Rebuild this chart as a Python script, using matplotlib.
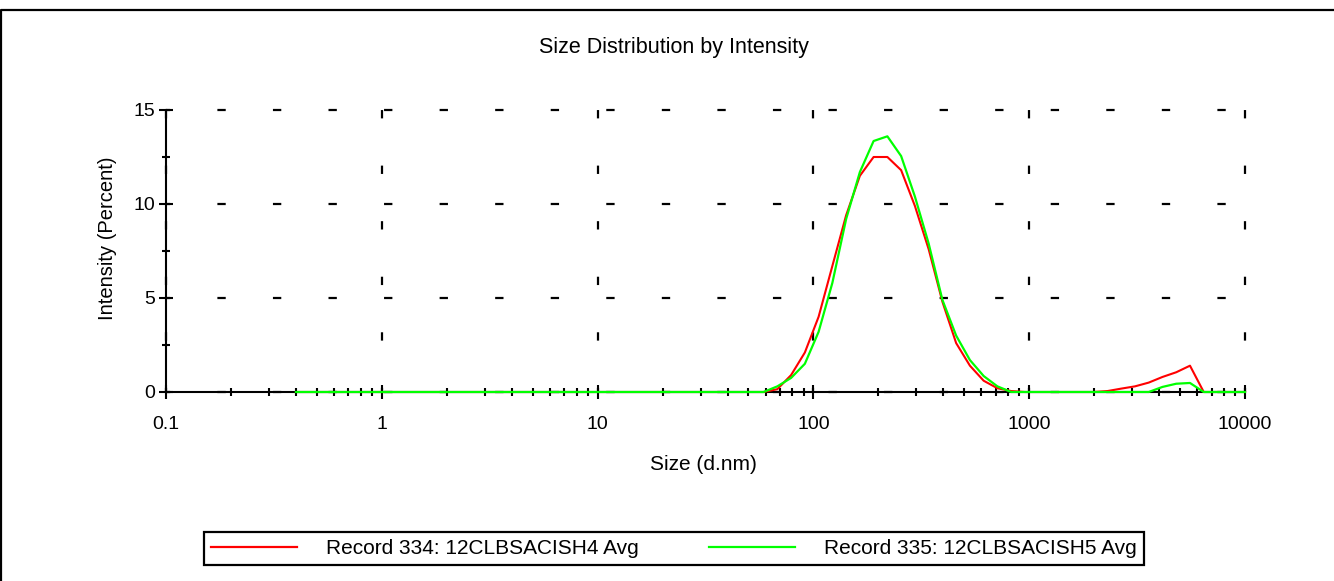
import matplotlib
matplotlib.use("Agg")
import matplotlib.pyplot as plt
from matplotlib.ticker import FixedLocator, FixedFormatter, LogLocator, NullFormatter

plt.rcParams['font.family'] = ['Liberation Sans', 'DejaVu Sans']
plt.rcParams['lines.scale_dashes'] = False

# Zetasizer size classes (d.nm)
sizes = [0.4, 0.4632, 0.5365, 0.6213, 0.7195, 0.8332, 0.9649, 1.117, 1.294, 1.499,
         1.736, 2.01, 2.328, 2.696, 3.122, 3.615, 4.187, 4.849, 5.615, 6.503,
         7.531, 8.721, 10.1, 11.7, 13.54, 15.69, 18.17, 21.04, 24.36, 28.21,
         32.67, 37.84, 43.82, 50.75, 58.77, 68.06, 78.82, 91.28, 105.7, 122.4,
         141.8, 164.2, 190.1, 220.2, 255.0, 295.3, 342.0, 396.1, 458.7, 531.2,
         615.1, 712.4, 825.0, 955.4, 1106, 1281, 1484, 1718, 1990, 2305,
         2669, 3091, 3580, 4145, 4801, 5560, 6439, 7456, 8635, 10000]

# Intensity (%) per class
rec334 = [0] * 35 + [0.15, 0.9, 2.1, 4.0, 6.7, 9.4, 11.5, 12.5, 12.5, 11.8, 9.9, 7.6,
                     4.8, 2.6, 1.4, 0.6, 0.2, 0.05, 0, 0, 0, 0, 0, 0, 0.05,
                     0.18, 0.3, 0.5, 0.8, 1.05, 1.4, 0, 0, 0, 0]
rec335 = [0] * 35 + [0.3, 0.75, 1.5, 3.2, 5.8, 9.2, 11.7, 13.35, 13.6, 12.55, 10.4, 7.9,
                     4.9, 3.0, 1.7, 0.85, 0.3, 0, 0, 0, 0, 0, 0, 0, 0,
                     0, 0, 0, 0.27, 0.44, 0.48, 0, 0, 0, 0]

labels = ["Record 334: 12CLBSACISH4 Avg", "Record 335: 12CLBSACISH5 Avg"]
x_ticks = [0.1, 1, 10, 100, 1000, 10000]
x_tick_labels = ["0.1", "1", "10", "100", "1000", "10000"]
y_ticks = [0, 5, 10, 15]

W, H = 1334, 581
fig = plt.figure(figsize=(W / 100, H / 100), dpi=100)
ax = fig.add_axes([166 / W, 1 - 392 / H, (1245 - 166) / W, (392 - 110) / H])

# 線は軸の上に描く (ベースラインが見えるように)
l1, = ax.plot(sizes, rec334, color='#ff0000', lw=1.5, zorder=3, clip_on=False)
l2, = ax.plot(sizes, rec335, color='#00ff00', lw=1.6, zorder=3.1, clip_on=False)

ax.set_xscale('log')
ax.set_xlim(0.1, 10000)
ax.set_ylim(0, 15)

ax.xaxis.set_major_locator(FixedLocator(x_ticks))
ax.xaxis.set_major_formatter(FixedFormatter(x_tick_labels))
ax.xaxis.set_minor_locator(LogLocator(base=10, subs=range(2, 10)))
ax.xaxis.set_minor_formatter(NullFormatter())
ax.yaxis.set_major_locator(FixedLocator(y_ticks))
ax.yaxis.set_minor_locator(FixedLocator([2.5, 7.5, 12.5]))

ax.tick_params(which='major', direction='inout', length=10, width=1.5, labelsize=14)
ax.tick_params(which='minor', direction='inout', length=6, width=1.5)
ax.tick_params(axis='x', which='major', pad=12)
ax.tick_params(axis='y', which='major', pad=3)

for s in ['top', 'right']:
    ax.spines[s].set_visible(False)
for s in ['left', 'bottom']:
    ax.spines[s].set_linewidth(1.5)

# 点線グリッド
ax.grid(True, which='major', color='black', lw=1.6, linestyle=(3, (6, 34)))
ax.set_axisbelow(True)
for gl in ax.get_xgridlines() + ax.get_ygridlines():
    gl.set_clip_on(False)

fig.text(674 / W, 1 - 47 / H, "Size Distribution by Intensity", ha='center', va='center', fontsize=15.5)
fig.text(703 / W, 1 - 465 / H, "Size (d.nm)", ha='center', va='center', fontsize=15)
fig.text(108 / W, 1 - 238 / H, "Intensity (Percent)", ha='center', va='center',
         rotation=90, fontsize=14.5)

leg = fig.legend([l1, l2], labels, loc='center', bbox_to_anchor=(674 / W, 1 - 548.5 / H),
                 ncol=2, fontsize=15, frameon=True, fancybox=False, framealpha=1,
                 edgecolor='black', handlelength=4.1, handletextpad=1.4,
                 columnspacing=3.4, borderpad=0.35)
leg.get_frame().set_linewidth(1.6)
for h in leg.legend_handles:
    h.set_linewidth(1.6)

# 外枠
fig.add_artist(plt.Line2D([1.5 / W, 1.5 / W, 1], [0, 1 - 9.5 / H, 1 - 9.5 / H],
                          transform=fig.transFigure, color='black', lw=1.6))

fig.savefig("out.png", dpi=100)
